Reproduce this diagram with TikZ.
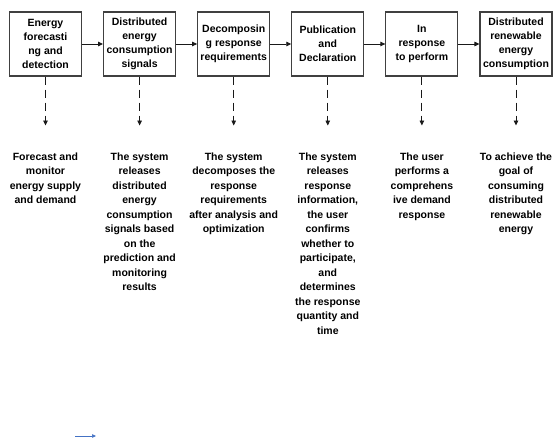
\documentclass[tikz,border=0pt]{standalone}
\usepackage{fontspec}
\setmainfont{Liberation Sans}
\usetikzlibrary{positioning,arrows.meta}

\begin{document}
\begin{tikzpicture}[x=1pt,y=1pt,
	stage/.style={draw=black!75,line width=1.1pt,minimum width=72pt,minimum height=64pt,inner sep=1pt,align=center,text=black,font=\bfseries\fontsize{10.5}{14}\selectfont},
	desc/.style={anchor=north,inner sep=0pt,align=center,text=black,font=\bfseries\fontsize{10.5}{14.5}\selectfont},
	flow/.style={-{Triangle[length=5pt,width=4.5pt]},line width=0.9pt,black!90},
	drop/.style={-{Triangle[length=5pt,width=4.5pt]},line width=0.9pt,black!90,dash pattern=on 8pt off 5pt,shorten >=27pt}]
	\useasboundingbox (0,0) rectangle (558,-441);
	\node[stage] (b1) at (45.5,-44) {Energy\\forecasti\\ng and\\detection};
	\node[stage,right=21pt of b1] (b2) {Distributed\\energy\\consumption\\signals};
	\node[stage,right=21pt of b2] (b3) {Decomposin\\g response\\requirements};
	\node[stage,right=21pt of b3] (b4) {Publication\\and\\Declaration};
	\node[stage,right=21pt of b4] (b5) {In\\response\\to perform};
	\node[stage,right=21pt of b5] (b6) {Distributed\\renewable\\energy\\consumption};
	\node[desc,below=76pt of b1.south] (d1) {Forecast and\\monitor\\energy supply\\and demand};
	\node[desc,below=76pt of b2.south] (d2) {The system\\releases\\distributed\\energy\\consumption\\signals based\\on the\\prediction and\\monitoring\\results};
	\node[desc,below=76pt of b3.south] (d3) {The system\\decomposes the\\response\\requirements\\after analysis and\\optimization};
	\node[desc,below=76pt of b4.south] (d4) {The system\\releases\\response\\information,\\the user\\confirms\\whether to\\participate,\\and\\determines\\the response\\quantity and\\time};
	\node[desc,below=76pt of b5.south] (d5) {The user\\performs a\\comprehens\\ive demand\\response};
	\node[desc,below=76pt of b6.south] (d6) {To achieve the\\goal of\\consuming\\distributed\\renewable\\energy};
	\draw[flow] (b1) -- (b2);
	\draw[flow] (b2) -- (b3);
	\draw[flow] (b3) -- (b4);
	\draw[flow] (b4) -- (b5);
	\draw[flow] (b5) -- (b6);
	\draw[drop] (b1) -- (d1);
	\draw[drop] (b2) -- (d2);
	\draw[drop] (b3) -- (d3);
	\draw[drop] (b4) -- (d4);
	\draw[drop] (b5) -- (d5);
	\draw[drop] (b6) -- (d6);
	\coordinate (k1) at (75,-436);
	\coordinate (k2) at (96,-436);
	\draw[-{Triangle[length=4pt,width=3.5pt]},line width=0.6pt,color={rgb,255:red,68;green,114;blue,196}] (k1) -- (k2);
\end{tikzpicture}
\end{document}
